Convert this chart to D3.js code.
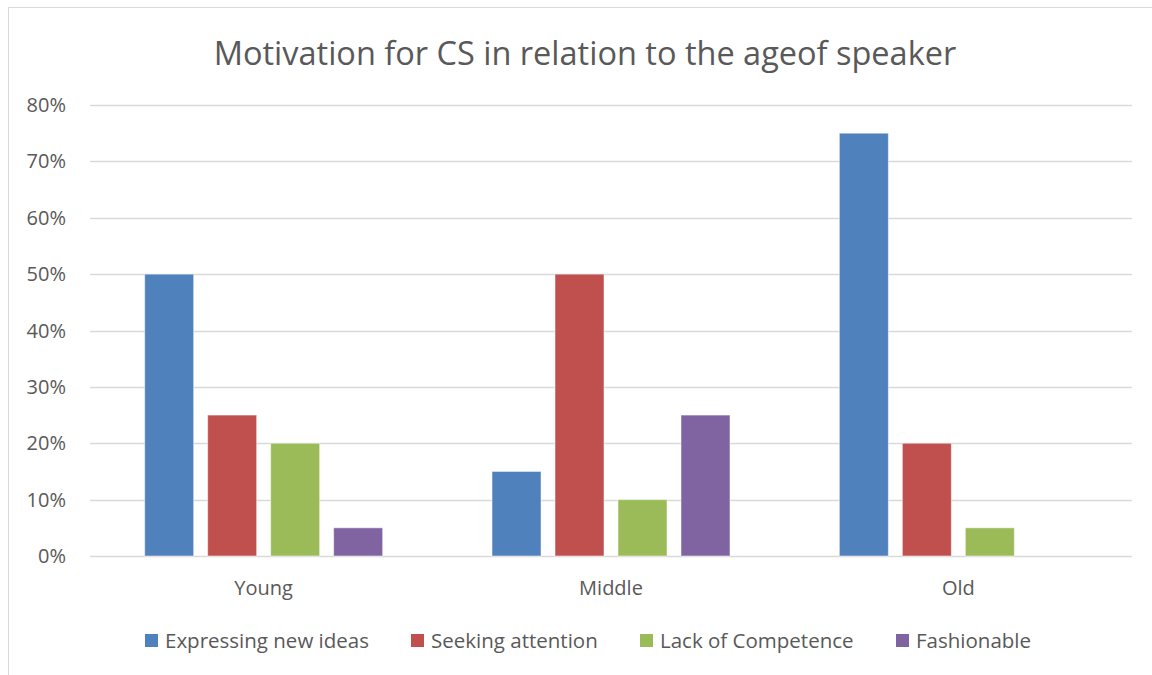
<!DOCTYPE html>
<html>
<head>
<meta charset="utf-8">
<script src="https://cdn.jsdelivr.net/npm/d3@7"></script>
<style>
  body { margin: 0; background: #fff; }
  text { font-family: "Open Sans", Lato, sans-serif; fill: #595959; }
</style>
</head>
<body>
<script>
// chart data
var categories = ["Young", "Middle", "Old"];
var seriesNames = ["Expressing new ideas", "Seeking attention", "Lack of Competence", "Fashionable"];
var expressing = [50, 15, 75];
var seeking = [25, 50, 20];
var lackComp = [20, 10, 5];
var fashionable = [5, 25, 0];
var yTicks = [0, 10, 20, 30, 40, 50, 60, 70, 80];
var colors = ["#4F81BD", "#C0504D", "#9BBB59", "#8064A2"];

var allSeries = [expressing, seeking, lackComp, fashionable];

function drawChart(){
  var W = 1152, H = 675;
  var svg = d3.select("body").append("svg").attr("width", W).attr("height", H);

  // chart border
  svg.append("rect").attr("x", 8.5).attr("y", 7.5).attr("width", W).attr("height", H)
    .attr("fill", "none").attr("stroke", "#D9D9D9").attr("stroke-width", 1);

  svg.append("text").attr("x", 585).attr("y", 65).attr("text-anchor", "middle")
    .style("font-size", "32.5px").text("Motivation for CS in relation to the ageof speaker");

  var plotLeft = 90, plotRight = 1132, plotTop = 105, plotBottom = 556;

  var y = d3.scaleLinear().domain([0, 80]).range([plotBottom, plotTop]);
  var x0 = d3.scaleBand().domain(categories).range([plotLeft, plotRight]).padding(0);
  var x1 = d3.scaleBand().domain(d3.range(seriesNames.length)).range([0, x0.bandwidth()])
    .paddingInner(0.222).paddingOuter(0.868);

  // gridlines
  svg.append("g").selectAll("line").data(yTicks).enter().append("line")
    .attr("x1", plotLeft).attr("x2", plotRight)
    .attr("y1", function(d){ return Math.round(y(d)) + 0.5; })
    .attr("y2", function(d){ return Math.round(y(d)) + 0.5; })
    .attr("stroke", "#D9D9D9").attr("stroke-width", 1.3);

  svg.append("g").selectAll("text").data(yTicks).enter().append("text")
    .attr("x", 66).attr("y", function(d){ return y(d); }).attr("dy", "0.35em")
    .attr("text-anchor", "end").style("font-size", "20px")
    .text(function(d){ return d + "%"; });

  // bars
  var groups = svg.append("g").selectAll("g").data(categories).enter().append("g")
    .attr("transform", function(d){ return "translate(" + x0(d) + ",0)"; });

  groups.selectAll("rect").data(function(d, ci){
      return allSeries.map(function(s, si){ return {si: si, v: s[ci]}; })
        .filter(function(e){ return e.v > 0; });
    }).enter().append("rect")
    .attr("x", function(d){ return x1(d.si); })
    .attr("width", x1.bandwidth())
    .attr("y", function(d){ return y(d.v); })
    .attr("height", function(d){ return y(0) - y(d.v); })
    .attr("fill", function(d){ return colors[d.si]; })
    .attr("stroke", "#fff").attr("stroke-opacity", 0.5).attr("stroke-width", 1);

  // category labels
  svg.append("g").selectAll("text").data(categories).enter().append("text")
    .attr("x", function(d){ return x0(d) + x0.bandwidth() / 2; })
    .attr("y", 588).attr("dy", "0.35em").attr("text-anchor", "middle")
    .style("font-size", "20px").text(function(d){ return d; });

  // legend
  var legendX = [145, 411, 640, 896];
  var lg = svg.append("g").selectAll("g").data(seriesNames).enter().append("g")
    .attr("transform", function(d, i){ return "translate(" + legendX[i] + ",634)"; });
  lg.append("rect").attr("width", 13).attr("height", 13)
    .attr("fill", function(d, i){ return colors[i]; });
  lg.append("text").attr("x", 20).attr("y", 6.5).attr("dy", "0.35em")
    .style("font-size", "20.5px").text(function(d){ return d; });
}

drawChart();
</script>
</body>
</html>
